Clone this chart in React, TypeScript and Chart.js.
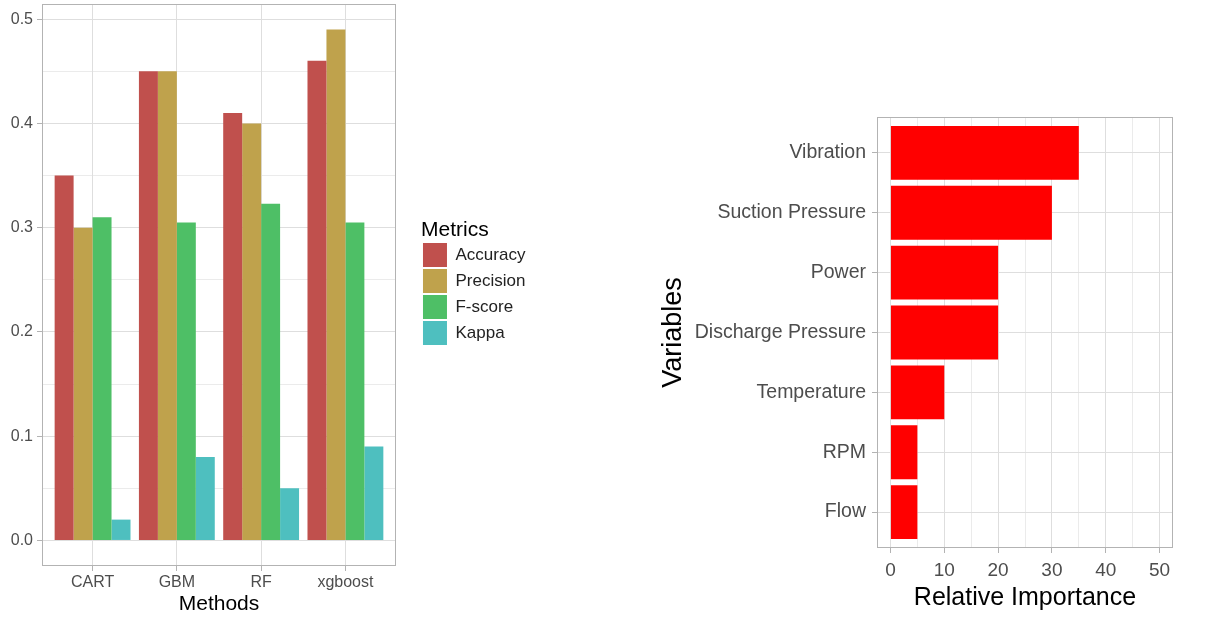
import React, { useEffect, useRef } from 'react';
import { Chart, registerables } from 'chart.js';

Chart.register(...registerables);

// ---------- Left chart data ----------
const methods = ['CART', 'GBM', 'RF', 'xgboost'];
const metricNames = ['Accuracy', 'Precision', 'F-score', 'Kappa'];
const accuracy = [0.35, 0.45, 0.41, 0.46];
const precision = [0.3, 0.45, 0.4, 0.49];
const fscore = [0.31, 0.305, 0.323, 0.305];
const kappa = [0.02, 0.08, 0.05, 0.09];
const metricColors = ['#C0504D', '#BFA24C', '#4EBF66', '#4EBFBF'];
const leftYMajor = [0, 0.1, 0.2, 0.3, 0.4, 0.5];
const leftYMinor = [0.05, 0.15, 0.25, 0.35, 0.45];

// ---------- Right chart data ----------
const variables = ['Vibration', 'Suction Pressure', 'Power', 'Discharge Pressure', 'Temperature', 'RPM', 'Flow'];
const importance = [35, 30, 20, 20, 10, 5, 5];
const rightXMajor = [0, 10, 20, 30, 40, 50];
const rightXMinor = [5, 15, 25, 35, 45];

const FONT = "'Liberation Sans', Arial, sans-serif";
const GRID = '#DEDEDE';
const BORDER = '#B3B3B3';
const TICKTXT = '#4D4D4D';

const panelBorder = {
  id: 'panelBorder',
  afterDatasetsDraw(chart: any) {
    const { ctx, chartArea: a } = chart;
    ctx.save();
    ctx.strokeStyle = BORDER;
    ctx.lineWidth = 1;
    ctx.strokeRect(Math.round(a.left) + 0.5, Math.round(a.top) + 0.5, Math.round(a.right - a.left) - 1, Math.round(a.bottom - a.top) - 1);
    ctx.restore();
  },
};

const noPad = (s: any) => {
  s.paddingTop = 0;
  s.paddingBottom = 0;
  s.paddingLeft = 0;
  s.paddingRight = 0;
};

function LeftChart() {
  const ref = useRef<HTMLCanvasElement>(null);
  useEffect(() => {
    const series = [accuracy, precision, fscore, kappa];
    const chart = new Chart(ref.current!, {
      type: 'bar',
      data: {
        datasets: metricNames.map((name, k) => ({
          label: name,
          data: methods.map((_, i) => ({ x: i + 1, y: series[k][i] })),
          backgroundColor: metricColors[k],
          borderWidth: 0,
          categoryPercentage: 0.9,
          barPercentage: 1,
        })),
      },
      options: {
        animation: false,
        responsive: false,
        events: [],
        layout: { padding: { left: 0, top: 4, right: 24.6, bottom: 0 } },
        plugins: {
          tooltip: { enabled: false },
          legend: {
            position: 'right',
            align: 'center',
            fullSize: false,
            maxWidth: 160,
            title: {
              display: true,
              text: 'Metrics',
              position: 'start',
              color: '#000',
              font: { family: FONT, size: 21, lineHeight: 1 },
              padding: { top: -3, bottom: 0 },
            },
            labels: {
              boxWidth: 24,
              boxHeight: 24,
              padding: 2,
              color: '#222',
              font: { family: FONT, size: 17 },
            },
          },
        },
        scales: {
          x: {
            type: 'linear',
            min: 0.4,
            max: 4.6,
            offset: false,
            afterBuildTicks: (s: any) => {
              s.ticks = methods.map((_, i) => ({ value: i + 1 }));
            },
            afterFit: (s: any) => {
              s.height = 51;
              noPad(s);
            },
            ticks: {
              autoSkip: false,
              maxRotation: 0,
              padding: 2,
              color: TICKTXT,
              font: { family: FONT, size: 16 },
              callback: (v: any) => methods[Math.round(v) - 1] ?? '',
            },
            grid: { color: GRID, offset: false, tickLength: 5, tickColor: BORDER, lineWidth: 1 },
            border: { display: false },
            title: {
              display: true,
              text: 'Methods',
              color: '#000',
              font: { family: FONT, size: 21 },
              padding: { top: 0, bottom: 0 },
            },
          },
          y: {
            type: 'linear',
            min: -0.0245,
            max: 0.5145,
            afterBuildTicks: (s: any) => {
              s.ticks = [...leftYMajor, ...leftYMinor].sort((a, b) => a - b).map((v) => ({ value: v }));
            },
            afterFit: (s: any) => {
              s.width = 42;
              noPad(s);
            },
            ticks: {
              autoSkip: false,
              padding: 4,
              color: TICKTXT,
              font: { family: FONT, size: 16 },
              callback: (v: any) => (leftYMajor.includes(v) ? Number(v).toFixed(1) : ''),
            },
            grid: {
              color: GRID,
              tickLength: 5,
              tickColor: (c: any) => (leftYMajor.includes(c.tick?.value) ? BORDER : 'rgba(0,0,0,0)'),
              lineWidth: (c: any) => (leftYMajor.includes(c.tick?.value) ? 1 : 0.6),
            },
            border: { display: false },
          },
          spacer: {
            type: 'linear',
            position: 'right',
            display: true,
            ticks: { display: false },
            grid: { display: false, drawTicks: false },
            border: { display: false },
            afterFit: (s: any) => {
              s.width = 25;
              noPad(s);
            },
          },
        },
      } as any,
      plugins: [panelBorder],
    });
    return () => chart.destroy();
  }, []);
  return <canvas ref={ref} width={560} height={617} style={{ position: 'absolute', left: 0, top: 0, display: 'block' }} />;
}

function RightChart() {
  const ref = useRef<HTMLCanvasElement>(null);
  useEffect(() => {
    const chart = new Chart(ref.current!, {
      type: 'bar',
      data: {
        datasets: [
          {
            label: 'Relative Importance',
            data: variables.map((_, i) => ({ y: i + 1, x: importance[i] })),
            backgroundColor: '#FF0000',
            borderWidth: 0,
            categoryPercentage: 0.9,
            barPercentage: 1,
          },
        ],
      },
      options: {
        indexAxis: 'y',
        animation: false,
        responsive: false,
        events: [],
        layout: { padding: { left: 0, top: 117, right: 41, bottom: 0 } },
        plugins: { legend: { display: false }, tooltip: { enabled: false } },
        scales: {
          y: {
            type: 'linear',
            min: 0.4,
            max: 7.6,
            reverse: true,
            offset: false,
            afterBuildTicks: (s: any) => {
              s.ticks = variables.map((_, i) => ({ value: i + 1 }));
            },
            afterFit: (s: any) => {
              s.width = 237;
              noPad(s);
            },
            ticks: {
              autoSkip: false,
              padding: 6,
              color: TICKTXT,
              font: { family: FONT, size: 19.5 },
              callback: (v: any) => variables[Math.round(v) - 1] ?? '',
            },
            grid: { color: GRID, offset: false, tickLength: 5, tickColor: BORDER, lineWidth: 1 },
            border: { display: false },
            title: {
              display: true,
              text: 'Variables',
              color: '#000',
              font: { family: FONT, size: 27 },
              padding: { top: 17, bottom: 0 },
            },
          },
          x: {
            type: 'linear',
            min: -2.5,
            max: 52.5,
            afterBuildTicks: (s: any) => {
              s.ticks = [...rightXMajor, ...rightXMinor].sort((a, b) => a - b).map((v) => ({ value: v }));
            },
            afterFit: (s: any) => {
              s.height = 69;
              noPad(s);
            },
            ticks: {
              autoSkip: false,
              maxRotation: 0,
              padding: 6,
              color: TICKTXT,
              font: { family: FONT, size: 19 },
              callback: (v: any) => (rightXMajor.includes(v) ? String(v) : ''),
            },
            grid: {
              color: GRID,
              tickLength: 5,
              tickColor: (c: any) => (rightXMajor.includes(c.tick?.value) ? BORDER : 'rgba(0,0,0,0)'),
              lineWidth: (c: any) => (rightXMajor.includes(c.tick?.value) ? 1 : 0.6),
            },
            border: { display: false },
            title: {
              display: true,
              text: 'Relative Importance',
              color: '#000',
              font: { family: FONT, size: 25 },
              padding: { top: 0, bottom: 4 },
            },
          },
        },
      } as any,
      plugins: [panelBorder],
    });
    return () => chart.destroy();
  }, []);
  return <canvas ref={ref} width={574} height={617} style={{ position: 'absolute', left: 640, top: 0, display: 'block' }} />;
}

export default function App() {
  return (
    <div style={{ position: 'fixed', left: 0, top: 0, width: 1214, height: 617, background: '#fff', overflow: 'hidden' }}>
      <LeftChart />
      <RightChart />
    </div>
  );
}
